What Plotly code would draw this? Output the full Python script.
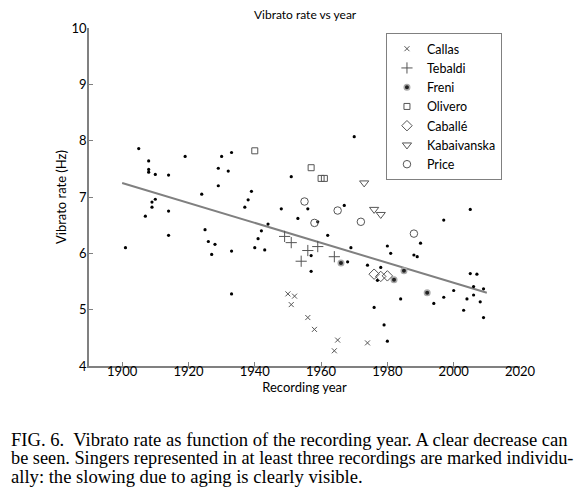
import plotly.graph_objects as go

# recordings of other singers (year, vibrato rate in Hz)
other_year = [1901, 1905, 1907, 1908, 1908, 1908, 1909, 1909, 1910, 1910,
              1914, 1914, 1914, 1919, 1924, 1925, 1926, 1927, 1928, 1929,
              1929, 1930, 1932, 1933, 1933, 1933, 1937, 1938, 1939, 1940,
              1941, 1942, 1943, 1944, 1948, 1951, 1953, 1956, 1957, 1957,
              1959, 1962, 1967, 1968, 1969, 1970, 1974, 1976, 1977, 1978,
              1979, 1980, 1980, 1981, 1984, 1988, 1989, 1990, 1994, 1997,
              1997, 2000, 2003, 2004, 2005, 2005, 2006, 2006, 2007, 2008,
              2009, 2009]
other_rate = [6.10, 7.86, 6.66, 7.64, 7.49, 7.44, 6.91, 6.82, 7.40, 6.96,
              7.39, 6.75, 6.32, 7.72, 7.05, 6.42, 6.21, 5.98, 6.16, 7.51,
              7.20, 7.72, 7.46, 7.79, 6.04, 5.28, 6.82, 6.95, 7.10, 6.10,
              6.26, 6.40, 6.06, 6.52, 6.79, 7.36, 6.62, 6.79, 5.96, 5.68,
              6.56, 6.32, 6.85, 5.85, 6.10, 8.07, 5.79, 5.04, 5.52, 5.75,
              4.73, 6.13, 4.44, 6.00, 5.19, 5.97, 5.94, 6.18, 5.11, 6.59,
              5.22, 5.34, 4.99, 5.19, 6.78, 5.64, 5.41, 5.26, 5.63, 5.14,
              5.37, 4.86]

# singers with at least three recordings
callas_year = [1950, 1952, 1951, 1956, 1958, 1965, 1964, 1974]
callas_rate = [5.28, 5.24, 5.09, 4.86, 4.65, 4.46, 4.27, 4.41]
tebaldi_year = [1949, 1951, 1956, 1959, 1954, 1964]
tebaldi_rate = [6.30, 6.19, 6.05, 6.12, 5.86, 5.94]
freni_year = [1966, 1982, 1985, 1992]
freni_rate = [5.83, 5.53, 5.69, 5.30]
olivero_year = [1940, 1957, 1960, 1961]
olivero_rate = [7.82, 7.52, 7.33, 7.33]
caballe_year = [1976, 1978, 1980]
caballe_rate = [5.63, 5.59, 5.60]
kabaivanska_year = [1973, 1976, 1978]
kabaivanska_rate = [7.25, 6.78, 6.69]
price_year = [1955, 1958, 1965, 1972, 1988]
price_rate = [6.92, 6.54, 6.76, 6.56, 6.35]

# linear trend (end points)
trend_year = [1900, 2010]
trend_rate = [7.25, 5.30]

caption_lines = [
    'FIG. 6.  Vibrato rate as function of the recording year. A clear decrease can',
    'be seen. Singers represented in at least three recordings are marked individu-',
    'ally: the slowing due to aging is clearly visible.',
]
caption_sizes = [18.6, 18.3, 18.6]

MK = '#555555'
SANS = 'Lato'

fig = go.Figure()

fig.add_trace(go.Scatter(x=trend_year, y=trend_rate, mode='lines',
                         line={'color': '#808080', 'width': 2},
                         showlegend=False, hoverinfo='skip'))

fig.add_trace(go.Scatter(x=other_year, y=other_rate, mode='markers',
                         marker={'color': 'black', 'size': 3.2, 'symbol': 'circle'},
                         showlegend=False))

singers = [
    ('Callas', callas_year, callas_rate, 'x-thin-open', 5),
    ('Tebaldi', tebaldi_year, tebaldi_rate, 'cross-thin-open', 8),
    ('Freni', freni_year, freni_rate, 'circle', 5.5),
    ('Olivero', olivero_year, olivero_rate, 'square-open', 6),
    ('Caballé', caballe_year, caballe_rate, 'diamond-open', 8),
    ('Kabaivanska', kabaivanska_year, kabaivanska_rate, 'triangle-down-open', 8),
    ('Price', price_year, price_rate, 'circle-open', 7.5),
]
for name, xs, ys, sym, sz in singers:
    if name == 'Freni':
        mk = {'symbol': sym, 'size': sz, 'color': '#222222',
              'line': {'color': '#aaaaaa', 'width': 1.5}}
    else:
        mk = {'symbol': sym, 'size': sz, 'color': MK,
              'line': {'color': MK, 'width': 1}}
    fig.add_trace(go.Scatter(x=xs, y=ys, mode='markers', name=name, marker=mk))

axis_style = dict(showline=True, linecolor='#808080', linewidth=1.5,
                  ticks='inside', ticklen=4, tickcolor='#808080',
                  showgrid=False, zeroline=False, mirror=False,
                  tickfont={'size': 13, 'color': 'black'})

# the page adds 8px on the left/top, so the figure is 8px smaller
fig.update_layout(
    width=578, height=492,
    margin={'l': 81, 'r': 66, 't': 20, 'b': 134},
    paper_bgcolor='white', plot_bgcolor='white',
    font={'family': SANS, 'color': 'black', 'size': 13},
    title={'text': 'Vibrato rate vs year', 'x': 0.514, 'xanchor': 'center',
           'y': 0.9858, 'yanchor': 'middle', 'font': {'size': 12}},
    xaxis=dict(range=[1890, 2020], tickvals=list(range(1900, 2021, 20)),
               ticklabelstandoff=-7,
               title={'text': 'Recording year', 'standoff': 0, 'font': {'size': 13}},
               **axis_style),
    yaxis=dict(range=[4, 10], tickvals=list(range(4, 11)),
               ticklabelstandoff=-2,
               title={'text': 'Vibrato rate (Hz)', 'standoff': 2, 'font': {'size': 13}},
               **axis_style),
    legend={'x': 0.689, 'y': 0.985, 'xanchor': 'left', 'yanchor': 'top',
            'bordercolor': '#808080', 'borderwidth': 1, 'bgcolor': 'white',
            'font': {'size': 12.5}, 'tracegroupgap': 0, 'itemwidth': 30},
)

# caption lines, centred at 439, 458 and 477 px of the page
for i, line in enumerate(caption_lines):
    fig.add_annotation(text=line, xref='paper', yref='paper',
                       x=-0.186, y=-0.216 - 0.0562 * i,
                       xanchor='left', yanchor='middle', align='left', showarrow=False,
                       font={'family': 'Liberation Serif', 'size': caption_sizes[i],
                             'color': 'black'})

fig.write_html('out.html')
